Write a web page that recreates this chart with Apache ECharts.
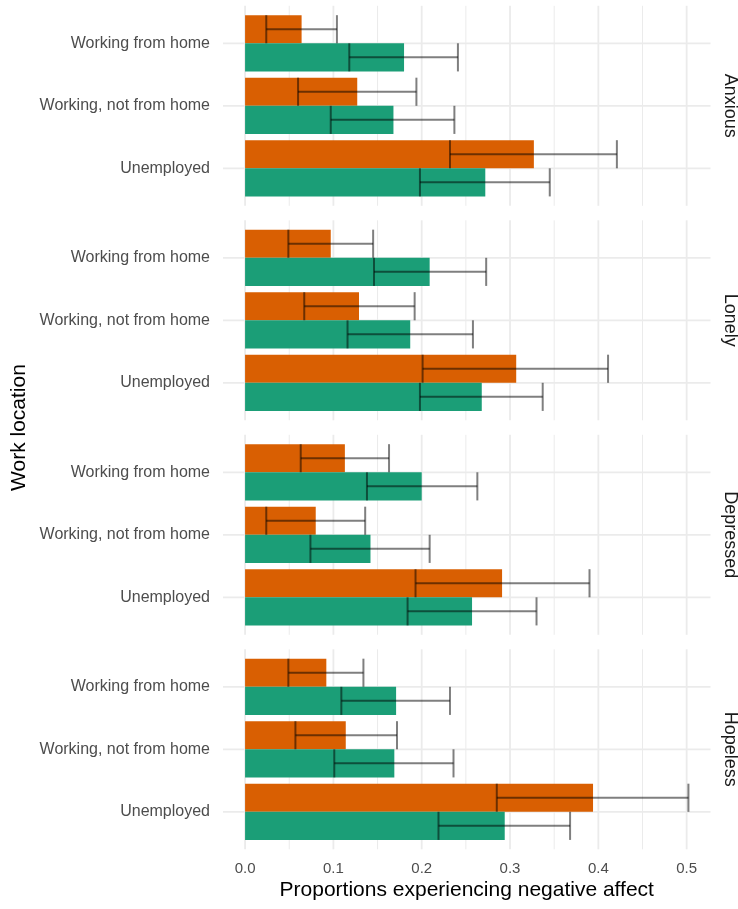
<!DOCTYPE html>
<html>
<head>
<meta charset="utf-8">
<script src="https://cdn.jsdelivr.net/npm/echarts@6/dist/echarts.min.js"></script>
<style>
  html, body { margin: 0; padding: 0; background: #fff; }
  #chart { width: 738px; height: 909px; }
</style>
</head>
<body>
<div id="chart"></div>
<script>
// Work locations (rows within each facet, top to bottom)
const categories = ['Working from home', 'Working, not from home', 'Unemployed'];
// Facets: type of negative affect
const affects = ['Anxious', 'Lonely', 'Depressed', 'Hopeless'];

// Orange group: proportion and 95% interval, one row per affect
const orangeProp = [
  [0.064, 0.127, 0.327],
  [0.097, 0.129, 0.307],
  [0.113, 0.080, 0.291],
  [0.092, 0.114, 0.394]
];
const orangeLow = [
  [0.024, 0.060, 0.232],
  [0.049, 0.067, 0.201],
  [0.063, 0.024, 0.193],
  [0.049, 0.057, 0.285]
];
const orangeHigh = [
  [0.104, 0.194, 0.421],
  [0.145, 0.192, 0.411],
  [0.163, 0.136, 0.390],
  [0.134, 0.172, 0.502]
];

// Green group: proportion and 95% interval
const greenProp = [
  [0.180, 0.168, 0.272],
  [0.209, 0.187, 0.268],
  [0.200, 0.142, 0.257],
  [0.171, 0.169, 0.294]
];
const greenLow = [
  [0.118, 0.097, 0.198],
  [0.146, 0.116, 0.198],
  [0.138, 0.074, 0.184],
  [0.109, 0.101, 0.219]
];
const greenHigh = [
  [0.241, 0.237, 0.345],
  [0.273, 0.258, 0.337],
  [0.263, 0.209, 0.330],
  [0.232, 0.236, 0.368]
];

// Axis ticks
const xTickLabels = [0, 0.1, 0.2, 0.3, 0.4, 0.5];
const xMinorGrid = [0.05, 0.15, 0.25, 0.35, 0.45];

// ---- layout / style ----
const FONT = '"Liberation Sans", Arial, Helvetica, sans-serif';
const X_MIN = -0.025, X_MAX = 0.527;
const Y_MIN = -0.6, Y_MAX = 2.6;
const HALF = 0.225;            // half of a dodged bar's thickness
const ORANGE = '#D95F02', GREEN = '#1B9E77';
const GRID_COLOR = '#EBEBEB';
const panelLeft = 223, panelRight = 710.5, panelH = 200;
const panelTops = [5.8, 220.3, 434.8, 649.3];

const grids = [], xAxes = [], yAxes = [], series = [], graphics = [];

function near(v, step) {
  const k = v / step;
  return Math.abs(k - Math.round(k)) < 1e-6;
}

affects.forEach((name, p) => {
  grids.push({ left: panelLeft, width: panelRight - panelLeft, top: panelTops[p], height: panelH });
  const last = p === affects.length - 1;
  xAxes.push({
    type: 'value', gridIndex: p, min: X_MIN, max: X_MAX, interval: 0.025,
    axisLine: { show: false }, axisTick: { show: false }, splitLine: { show: false },
    axisLabel: {
      show: last, margin: 12, fontSize: 15, color: '#4D4D4D', fontFamily: FONT,
      formatter: v => (v > -1e-9 && near(v, 0.1) && xTickLabels.some(t => Math.abs(t - v) < 1e-6)) ? v.toFixed(1) : ''
    },
    name: last ? 'Proportions experiencing negative affect' : '',
    nameLocation: 'middle', nameGap: 30,
    nameTextStyle: { fontSize: 21, color: '#000', fontFamily: FONT }
  });
  yAxes.push({
    type: 'value', gridIndex: p, min: Y_MIN, max: Y_MAX, interval: 0.2, inverse: true,
    axisLine: { show: false }, axisTick: { show: false }, splitLine: { show: false },
    axisLabel: {
      margin: 13, fontSize: 16, color: '#4D4D4D', fontFamily: FONT,
      formatter: v => {
        const i = Math.round(v);
        return (Math.abs(v - i) < 1e-6 && i >= 0 && i < categories.length) ? categories[i] : '';
      }
    }
  });

  // vertical grid lines (major + minor)
  const vData = xTickLabels.map(v => [v, 1]).concat(xMinorGrid.map(v => [v, 0]));
  series.push({
    type: 'custom', xAxisIndex: p, yAxisIndex: p, z: 1, silent: true,
    data: vData,
    encode: { x: 0 },
    renderItem: (params, api) => {
      const v = api.value(0), major = api.value(1) === 1;
      const a = api.coord([v, Y_MIN]), b = api.coord([v, Y_MAX]);
      return { type: 'line', shape: { x1: a[0], y1: a[1], x2: b[0], y2: b[1] },
               style: { stroke: GRID_COLOR, lineWidth: major ? 1.8 : 1 } };
    }
  });
  // horizontal grid lines at each work location
  series.push({
    type: 'custom', xAxisIndex: p, yAxisIndex: p, z: 1, silent: true,
    data: categories.map((c, i) => [i]),
    encode: { y: 0 },
    renderItem: (params, api) => {
      const y = api.value(0);
      const a = api.coord([X_MIN, y]), b = api.coord([X_MAX, y]);
      return { type: 'line', shape: { x1: a[0], y1: a[1], x2: b[0], y2: b[1] },
               style: { stroke: GRID_COLOR, lineWidth: 1.8 } };
    }
  });

  // bars + error bars for both groups
  const groups = [
    { color: ORANGE, off: -HALF, prop: orangeProp[p], low: orangeLow[p], high: orangeHigh[p] },
    { color: GREEN, off: HALF, prop: greenProp[p], low: greenLow[p], high: greenHigh[p] }
  ];
  groups.forEach(g => {
    series.push({
      type: 'custom', xAxisIndex: p, yAxisIndex: p, z: 2, silent: true,
      data: categories.map((c, i) => [g.prop[i], i + g.off]),
      encode: { x: 0, y: 1 },
      renderItem: (params, api) => {
        const v = api.value(0), yc = api.value(1);
        const a = api.coord([0, yc - HALF]), b = api.coord([v, yc + HALF]);
        return { type: 'rect',
                 shape: { x: a[0], y: Math.min(a[1], b[1]), width: b[0] - a[0], height: Math.abs(b[1] - a[1]) },
                 style: { fill: g.color } };
      }
    });
    series.push({
      type: 'custom', xAxisIndex: p, yAxisIndex: p, z: 3, silent: true,
      data: categories.map((c, i) => [g.low[i], g.high[i], i + g.off]),
      encode: { x: [0, 1], y: 2 },
      renderItem: (params, api) => {
        const lo = api.value(0), hi = api.value(1), yc = api.value(2);
        const l = api.coord([lo, yc]), h = api.coord([hi, yc]);
        const lt = api.coord([lo, yc - HALF]), lb = api.coord([lo, yc + HALF]);
        const ht = api.coord([hi, yc - HALF]), hb = api.coord([hi, yc + HALF]);
        const st = { stroke: 'rgba(0,0,0,0.5)', lineWidth: 2 };
        return { type: 'group', children: [
          { type: 'line', shape: { x1: l[0], y1: l[1], x2: h[0], y2: h[1] }, style: st },
          { type: 'line', shape: { x1: lt[0], y1: lt[1], x2: lb[0], y2: lb[1] }, style: st },
          { type: 'line', shape: { x1: ht[0], y1: ht[1], x2: hb[0], y2: hb[1] }, style: st }
        ] };
      }
    });
  });

  // facet strip label on the right
  graphics.push({
    type: 'text', x: 730, y: panelTops[p] + panelH / 2, rotation: -Math.PI / 2,
    style: { text: name, fontSize: 18, fill: '#1A1A1A', fontFamily: FONT, align: 'center', verticalAlign: 'middle' }
  });
});

// shared y-axis title
graphics.push({
  type: 'text', x: 19, y: (panelTops[0] + panelTops[3] + panelH) / 2, rotation: Math.PI / 2,
  style: { text: 'Work location', fontSize: 21, fill: '#000', fontFamily: FONT, align: 'center', verticalAlign: 'middle' }
});

const chart = echarts.init(document.getElementById('chart'), null, { renderer: 'canvas' });
chart.setOption({
  animation: false,
  backgroundColor: '#fff',
  grid: grids,
  xAxis: xAxes,
  yAxis: yAxes,
  series: series,
  graphic: graphics
});
</script>
</body>
</html>
